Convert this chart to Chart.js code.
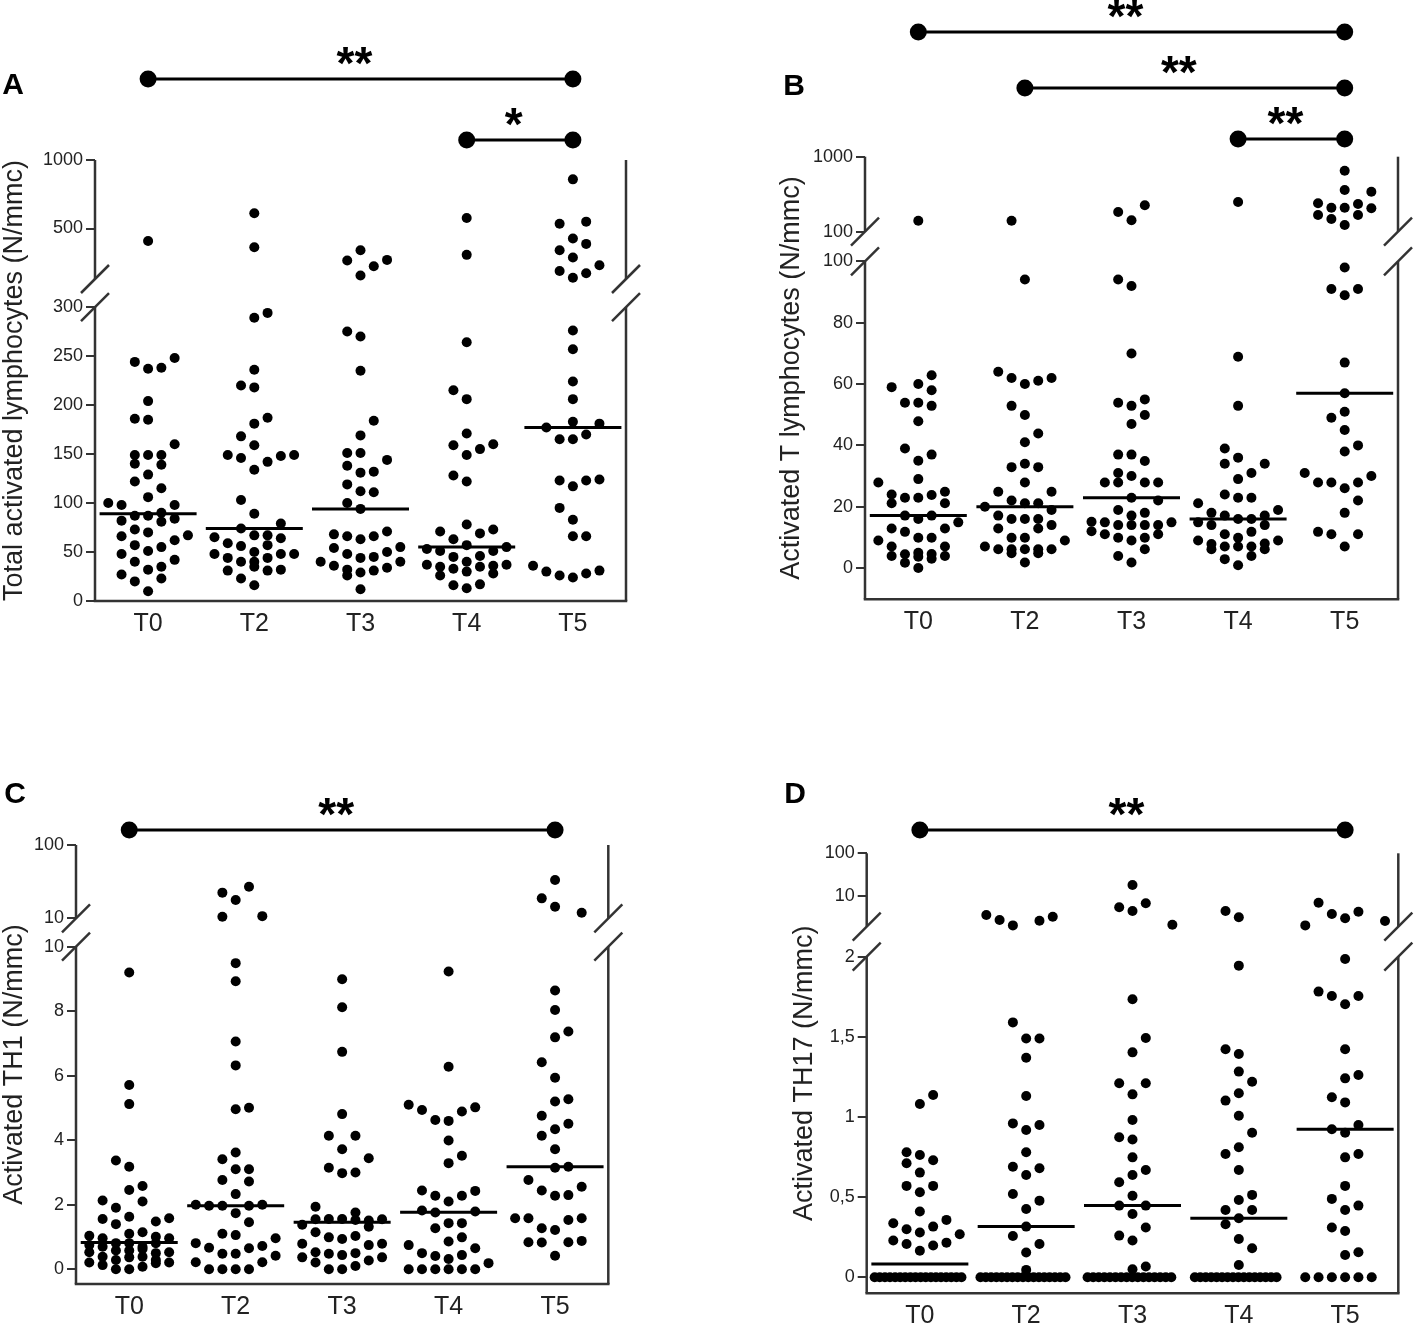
<!DOCTYPE html>
<html><head><meta charset="utf-8">
<script src="https://cdn.jsdelivr.net/npm/chart.js@4.4.1/dist/chart.umd.min.js"></script>
<style>
html,body{margin:0;padding:0;background:#fff;}
#wrap{position:relative;width:1415px;height:1325px;overflow:hidden;}
.panel{position:absolute;}
</style></head><body>
<div id="wrap">
<div class="panel" style="left:0;top:0;width:700px;height:660px"><canvas id="cA"></canvas></div>
<div class="panel" style="left:700px;top:0;width:715px;height:660px"><canvas id="cB"></canvas></div>
<div class="panel" style="left:0;top:660px;width:700px;height:665px"><canvas id="cC"></canvas></div>
<div class="panel" style="left:700px;top:660px;width:715px;height:665px"><canvas id="cD"></canvas></div>
</div>
<script>
// ---------- shared ----------
const categories = ['T0','T2','T3','T4','T5'];
// each point: [column offset within the swarm, value]

// ---------- Panel A: Total activated lymphocytes ----------
const A_T0 = [[0,441],[-1,244],[0,237],[1,238],[2,248],[0,204],[-1,186],[0,185],[2,160],[-1,149],[0,149],[1,149],[-1,140],[1,139],[0,129],[-1,122],[1,115],[0,106],[-3,100],[-2,98],[2,98],[-1,87],[0,87],[1,90],[-2,82],[1,81],[2,84],[-1,73],[0,70],[-2,66],[3,67],[2,62],[-1,57],[1,55],[0,51],[-2,48],[-1,40],[2,42],[1,35],[0,32],[-2,27],[1,23],[-1,20],[0,10]];
const A_T2 = [[0,584],[0,414],[0,289],[1,294],[0,236],[-1,220],[0,218],[1,187],[0,181],[-1,168],[0,159],[-2,149],[-1,146],[2,148],[3,149],[1,142],[0,134],[-1,103],[0,89],[2,79],[-1,74],[0,67],[1,67],[-3,65],[2,64],[-2,59],[-1,56],[1,57],[0,50],[-3,48],[2,48],[3,48],[-2,44],[-1,40],[0,40],[1,44],[-2,31],[0,35],[1,31],[2,32],[-1,23],[0,16]];
const A_T3 = [[0,401],[-1,362],[1,341],[2,364],[0,311],[-1,275],[0,270],[0,235],[1,184],[0,169],[-1,151],[0,151],[2,144],[-1,138],[0,131],[1,132],[-1,119],[0,112],[1,111],[-1,100],[0,94],[-2,68],[-1,66],[0,63],[1,66],[2,71],[-2,54],[-1,48],[0,44],[1,45],[2,50],[3,55],[-3,40],[-2,36],[-1,32],[0,29],[1,31],[2,34],[3,40],[-1,26],[0,12]];
const A_T4 = [[0,556],[0,383],[0,264],[-1,215],[0,206],[0,171],[-1,159],[1,155],[2,160],[0,149],[-1,128],[0,122],[0,78],[-2,71],[1,69],[2,73],[-1,63],[-3,53],[-2,51],[0,57],[2,51],[3,55],[-1,45],[1,46],[-3,37],[-2,35],[-1,33],[0,40],[1,35],[2,36],[3,37],[-2,26],[0,30],[2,28],[-1,16],[0,13],[1,17]];
const A_T5 = [[0,822],[-1,525],[1,536],[0,452],[1,428],[-1,401],[0,373],[2,345],[-1,325],[0,304],[1,318],[0,276],[0,257],[0,224],[0,206],[0,183],[-2,177],[2,181],[-1,165],[0,165],[1,170],[-1,123],[0,117],[1,123],[2,124],[-1,95],[0,83],[0,66],[1,66],[-3,36],[-2,30],[-1,26],[0,24],[1,28],[2,31]];
const A_medians = [89, 74, 94, 55, 177];
const A_lowTicks = [0, 50, 100, 150, 200, 250, 300];
const A_highTicks = [500, 1000];

// ---------- Panel B: Activated T lymphocytes ----------
const B_T0 = [[0,140],[1,62.9],[-2,59],[0,60],[1,58],[-1,53.9],[0,53.9],[1,52.9],[0,47.9],[-1,39],[1,37],[0,35],[0,29],[-3,27.9],[-2,24],[-1,22.9],[0,22.9],[1,23.8],[2,24.9],[-2,21.1],[2,21.1],[-1,17.1],[0,16],[1,17.1],[3,14.9],[-2,12.9],[-1,11.8],[2,12.9],[-3,9],[0,9.9],[1,9.9],[-2,7],[2,7],[-2,3.9],[-1,4.5],[-1,1.7],[0,5],[0,3.7],[1,4.6],[1,3],[2,3.9],[0,0]];
const B_T2 = [[-1,140],[0,94.1],[-2,64],[-1,62],[0,60],[1,61.1],[2,62],[-1,52.9],[0,49.9],[1,43.9],[0,41],[-1,32.9],[0,34],[1,32.9],[0,27.9],[-2,24.9],[2,24.9],[-1,22],[0,21.1],[1,21.1],[-3,20],[2,18.9],[-2,17.1],[-1,16],[0,16],[1,16],[2,14],[-2,12.9],[1,12.9],[-1,9.9],[0,9.9],[3,9],[-3,7],[-2,6.1],[-1,6.1],[-1,4.8],[0,6.1],[1,6.1],[1,4.8],[2,6.1],[0,1.8]];
const B_T3 = [[1,225],[-1,183],[0,142],[-1,94.1],[0,92],[0,70],[-1,53.9],[0,52.9],[1,55],[1,49.9],[0,47],[-1,37],[0,37],[1,34.9],[-1,31],[0,30],[-2,27.9],[-1,27.9],[1,27.9],[2,27.9],[0,22.9],[2,22],[-1,18.9],[0,17.1],[1,18],[-3,15.1],[-2,14.9],[-1,14],[0,14],[1,14],[2,14],[3,14.9],[-3,12],[-2,11],[-1,9.9],[0,9],[1,9.9],[2,11],[1,6.1],[-1,3.9],[0,1.8]];
const B_T4 = [[0,249],[0,68.9],[0,52.9],[-1,39],[0,36],[-1,34],[2,34],[1,31],[0,29],[-1,24],[0,22.9],[1,22.9],[-3,21.1],[-2,18],[3,18.9],[-1,17.1],[2,17.1],[0,16],[1,16],[-3,14.9],[-2,14],[2,14],[1,11.8],[-1,11],[0,9.9],[-3,9],[3,9],[-2,7.8],[-2,6.1],[-1,7],[0,7],[1,7],[2,8],[2,6.1],[-1,2.9],[1,3.9],[0,0.9]];
const B_T5 = [[0,651],[0,360],[2,341],[-2,239],[-1,209],[0,209],[1,234],[2,205],[-2,167],[-1,148],[1,167],[0,123],[0,98],[-1,91],[0,89],[1,91],[0,67],[0,57],[0,51],[-1,49],[0,45],[0,38],[1,40],[-3,31],[2,30],[-2,27.9],[-1,27.9],[0,26],[1,27.9],[1,22],[0,18],[-2,11.8],[-1,11],[1,11],[0,7]];
const B_medians = [17.1, 20, 22.9, 16, 57];
const B_lowTicks = [0, 20, 40, 60, 80, 100];
const B_highTicks = [100, 1000];

// ---------- Panel C: Activated TH1 ----------
const C_T0 = [[0,9.2],[0,5.71],[0,5.12],[-1,3.37],[0,3.18],[0,2.46],[1,2.58],[-2,2.13],[-1,1.91],[1,2.10],[0,1.63],[-2,1.56],[-1,1.40],[2,1.48],[3,1.58],[-3,1.04],[-2,0.96],[0,1.10],[1,1.15],[2,1.01],[3,0.96],[-3,0.75],[-2,0.70],[-1,0.81],[0,0.81],[1,0.70],[2,0.81],[-3,0.53],[-1,0.58],[0,0.58],[1,0.63],[2,0.50],[3,0.53],[-2,0.39],[-1,0.29],[0,0.37],[1,0.39],[2,0.29],[-3,0.21],[-2,0.13],[-1,0],[0,0],[1,0.08],[2,0.19],[3,0.21]];
const C_T2 = [[-1,22.4],[0,17.8],[1,27],[-1,10.5],[2,10.7],[0,9.49],[0,8.93],[0,7.06],[0,6.32],[0,4.96],[1,5.01],[0,3.62],[-1,3.41],[0,3.10],[1,3.10],[-1,2.77],[1,2.72],[0,2.33],[-3,2.0],[-2,1.97],[-1,1.97],[1,1.97],[2,2.0],[0,1.74],[1,1.46],[-1,1.10],[0,1.06],[3,0.96],[-3,0.81],[-2,0.67],[1,0.65],[2,0.72],[-1,0.48],[0,0.48],[3,0.42],[-3,0.22],[2,0.22],[-2,0],[-1,0],[0,0],[1,0]];
const C_T3 = [[0,8.99],[0,8.12],[0,6.74],[0,4.81],[-1,4.14],[1,4.14],[0,3.72],[2,3.44],[-1,3.15],[0,2.98],[1,3.0],[-2,1.94],[1,1.76],[-3,1.38],[-2,1.55],[-1,1.56],[0,1.56],[1,1.53],[2,1.51],[3,1.55],[2,1.32],[-2,1.15],[-1,0.99],[0,0.94],[1,1.03],[-3,0.79],[2,0.75],[3,0.79],[-2,0.53],[-1,0.48],[0,0.44],[1,0.50],[-3,0.37],[2,0.27],[3,0.37],[-2,0.21],[-1,0],[0,0],[1,0.10]];
const C_T4 = [[0,9.23],[0,6.28],[-3,5.10],[-2,4.94],[-1,4.63],[0,4.60],[1,4.89],[2,5.02],[0,3.99],[1,3.52],[0,3.29],[-2,2.44],[-1,2.28],[0,2.10],[1,2.28],[2,2.43],[-2,1.82],[-1,1.76],[2,1.79],[-1,1.27],[0,1.43],[1,1.43],[0,0.86],[1,0.99],[-3,0.75],[2,0.65],[-2,0.50],[-1,0.41],[0,0.32],[1,0.44],[3,0.19],[-3,0],[-2,0],[-1,0],[0,0],[1,0],[2,0]];
const C_T5 = [[0,33.3],[-1,18.7],[0,14.4],[2,11.9],[0,8.64],[0,8.04],[0,7.19],[1,7.37],[-1,6.42],[0,5.94],[0,5.20],[1,5.27],[-1,4.76],[0,4.34],[1,4.51],[-1,4.14],[0,3.72],[0,3.15],[1,3.18],[-2,2.77],[-1,2.44],[0,2.28],[1,2.30],[2,2.56],[-3,1.58],[-2,1.58],[1,1.53],[2,1.58],[-1,1.27],[0,1.22],[-2,0.84],[-1,0.83],[1,0.84],[2,0.88],[0,0.42]];
const C_medians = [0.83, 1.97, 1.46, 1.77, 3.18];
const C_lowTicks = [0, 2, 4, 6, 8, 10];
const C_highTicks = [10, 100];

// ---------- Panel D: Activated TH17 ----------
const D_T0 = [[0,1.081],[1,1.137],[-1,0.78],[0,0.763],[-1,0.711],[1,0.73],[0,0.653],[-1,0.57],[1,0.57],[0,0.53],[0,0.41],[-2,0.337],[2,0.358],[-1,0.30],[1,0.316],[0,0.279],[3,0.268],[-2,0.229],[-1,0.208],[1,0.198],[2,0.216],[0,0.166],
  [-3.4,0],[-3.02,0],[-2.63,0],[-2.25,0],[-1.86,0],[-1.48,0],[-1.1,0],[-0.71,0],[-0.33,0],[0.06,0],[0.44,0],[0.83,0],[1.21,0],[1.59,0],[1.98,0],[2.36,0],[2.75,0],[3.13,0]];
const D_T2 = [[-3,3.59],[-2,2.74],[-1,2.05],[1,2.64],[2,3.27],[-1,1.59],[0,1.49],[1,1.49],[0,1.37],[0,1.131],[-1,0.96],[1,0.95],[0,0.919],[0,0.78],[-1,0.69],[1,0.68],[0,0.638],[-1,0.52],[1,0.478],[0,0.426],[0,0.316],[-1,0.258],[1,0.208],[0,0.154],[0,0.046],
  [-3.44,0],[-3.04,0],[-2.64,0],[-2.24,0],[-1.84,0],[-1.44,0],[-1.04,0],[-0.64,0],[-0.24,0],[0.16,0],[0.56,0],[0.96,0],[1.36,0],[1.76,0],[2.16,0],[2.56,0],[2.96,0]];
const D_T3 = [[0,18.1],[-1,5.43],[0,4.46],[1,6.75],[3,2.13],[0,1.734],[1,1.493],[0,1.403],[-1,1.21],[1,1.21],[0,1.141],[0,0.981],[-1,0.873],[0,0.859],[0,0.748],[1,0.669],[0,0.638],[-1,0.593],[0,0.509],[-1,0.447],[1,0.447],[0,0.395],[1,0.31],[-1,0.26],[0,0.229],[0,0.05],[1,0.067],
  [-3.38,0],[-2.96,0],[-2.54,0],[-2.12,0],[-1.7,0],[-1.28,0],[-0.86,0],[-0.44,0],[-0.02,0],[0.4,0],[0.82,0],[1.24,0],[1.66,0],[2.08,0],[2.5,0],[2.92,0]];
const D_T4 = [[-1,4.46],[0,3.17],[0,1.944],[-1,1.422],[0,1.393],[0,1.283],[1,1.22],[0,1.148],[-1,1.102],[0,1.008],[1,0.902],[0,0.811],[-1,0.769],[0,0.669],[1,0.514],[0,0.482],[-1,0.42],[1,0.42],[0,0.368],[-1,0.331],[0,0.239],[1,0.181],[0,0.077],
  [-3.31,0],[-2.9,0],[-2.49,0],[-2.08,0],[-1.67,0],[-1.26,0],[-0.85,0],[-0.44,0],[-0.03,0],[0.38,0],[0.79,0],[1.2,0],[1.61,0],[2.02,0],[2.43,0],[2.84,0]];
const D_T5 = [[-2,6.97],[-1,3.79],[0,3.0],[1,4.29],[-3,2.05],[3,2.6],[0,1.985],[-2,1.782],[-1,1.755],[0,1.703],[1,1.755],[0,1.422],[0,1.241],[1,1.262],[-1,1.123],[0,1.091],[-1,0.923],[0,0.902],[1,0.95],[0,0.748],[1,0.769],[0,0.57],[-1,0.489],[0,0.42],[1,0.447],[-1,0.31],[0,0.289],[0,0.139],[1,0.156],
  [-3,0],[-2,0],[-1,0],[0,0],[1,0],[2,0]];
const D_medians = [0.083, 0.316, 0.447, 0.368, 0.923];
const D_lowTicks = [0, 0.5, 1, 1.5, 2];
const D_lowLabels = ['0', '0,5', '1', '1,5', '2'];
const D_highTicks = [10, 100];

// ---------- drawing ----------
const FONT = '"Liberation Sans", Arial, Helvetica, sans-serif';
Chart.defaults.font.family = FONT;
const COL_STEP = 0.125;

const panelDeco = {
  id: 'panelDeco',
  afterDraw(chart, args, o) {
    const {ctx, chartArea: ca, scales} = chart;
    const x = scales.x, yL = scales.yL, yU = scales.yU;
    ctx.save();
    const seg = (x1, y1, x2, y2) => { ctx.beginPath(); ctx.moveTo(x1, y1); ctx.lineTo(x2, y2); ctx.stroke(); };
    ctx.strokeStyle = '#333'; ctx.lineWidth = 2.5; ctx.lineCap = 'butt';
    const top = yU.top, bU = yU.bottom, bL = yL.getPixelForValue(o.lowTop), bot = ca.bottom;
    [ca.left, ca.right].forEach(ax => {
      seg(ax, top, ax, bU); seg(ax, bL, ax, bot);
      seg(ax - 14, bU + 14, ax + 14, bU - 14);
      seg(ax - 14, bL + 14, ax + 14, bL - 14);
    });
    seg(ca.left - 1.25, bot, ca.right + 1.25, bot);
    // axis title
    ctx.fillStyle = '#222';
    ctx.font = '27px ' + FONT;
    ctx.save();
    ctx.translate(o.titleX, (top + bot) / 2);
    ctx.rotate(-Math.PI / 2);
    ctx.textAlign = 'center'; ctx.textBaseline = 'middle';
    ctx.fillText(o.title, 0, 0);
    ctx.restore();
    // panel letter
    ctx.fillStyle = '#000';
    ctx.font = 'bold 30px ' + FONT;
    ctx.textAlign = 'center'; ctx.textBaseline = 'middle';
    ctx.fillText(o.letter, o.letterX, o.letterY);
    // significance brackets
    o.brackets.forEach(b => {
      const x1 = x.getPixelForValue(b.from), x2 = x.getPixelForValue(b.to);
      ctx.strokeStyle = '#000'; ctx.lineWidth = 3;
      seg(x1, b.y, x2, b.y);
      ctx.fillStyle = '#000';
      [x1, x2].forEach(px => { ctx.beginPath(); ctx.arc(px, b.y, 8.5, 0, Math.PI * 2); ctx.fill(); });
      ctx.font = 'bold 46px ' + FONT;
      ctx.textAlign = 'center'; ctx.textBaseline = 'alphabetic';
      const m = ctx.measureText(b.label);
      const cy = b.y - 23;
      const base = cy + (m.actualBoundingBoxAscent - m.actualBoundingBoxDescent) / 2;
      ctx.fillText(b.label, (x1 + x2) / 2 - 6, base);
    });
    ctx.restore();
  }
};
Chart.register(panelDeco);

function makePanel(id, cfg) {
  const low = [], high = [];
  cfg.cats.forEach((pts, i) => pts.forEach(([k, v]) => {
    (v > cfg.lowTop ? high : low).push({x: i + k * COL_STEP, y: v});
  }));
  const med = cfg.medians.map((m, i) => ({x: i, y: m}));
  const tickFont = {size: 18};
  const yGrid = {display: true, drawOnChartArea: false, drawTicks: true, tickLength: 9, color: '#333', lineWidth: 2};
  new Chart(document.getElementById(id), {
    type: 'scatter',
    data: {
      datasets: [
        {data: med, yAxisID: 'yL', pointStyle: 'line', pointRadius: 48.5, borderWidth: 3, borderColor: '#000', backgroundColor: '#000', clip: false},
        {data: low, yAxisID: 'yL', pointRadius: 5, borderWidth: 0, backgroundColor: '#000', clip: false},
        {data: high, yAxisID: 'yU', pointRadius: 5, borderWidth: 0, backgroundColor: '#000', clip: false}
      ]
    },
    options: {
      responsive: true, maintainAspectRatio: false, animation: false, events: [],
      layout: {padding: cfg.padding, autoPadding: false},
      plugins: {
        legend: {display: false}, tooltip: {enabled: false},
        panelDeco: {lowTop: cfg.lowTop, title: cfg.title, titleX: cfg.titleX, letter: cfg.letter,
          letterX: cfg.letterX, letterY: cfg.letterY, brackets: cfg.brackets}
      },
      scales: {
        x: {
          type: 'linear', min: -0.5, max: 4.5,
          afterBuildTicks: s => { s.ticks = categories.map((c, i) => ({value: i})); },
          afterFit: s => { s.height = cfg.xHeight; s.paddingLeft = 0; s.paddingRight = 0; },
          ticks: {callback: v => categories[Math.round(v)], font: {size: 25}, color: '#222', padding: cfg.xPad, autoSkip: false, maxRotation: 0},
          grid: {display: false, drawTicks: false}, border: {display: false}
        },
        yL: {
          type: 'linear', position: 'left', stack: 'y', stackWeight: cfg.weights[1], weight: 0,
          min: cfg.lowMin, max: cfg.lowMax,
          afterBuildTicks: s => { s.ticks = cfg.lowTicks.map(v => ({value: v})); },
          afterFit: s => { s.width = cfg.yWidth; },
          ticks: {callback: (v, i) => cfg.lowLabels[i], font: tickFont, color: '#222', padding: 3},
          grid: yGrid, border: {display: false}
        },
        yU: {
          type: 'logarithmic', position: 'left', stack: 'y', stackWeight: cfg.weights[0], weight: 1,
          min: cfg.highMin, max: cfg.highMax,
          afterBuildTicks: s => { s.ticks = cfg.highTicks.map(v => ({value: v})); },
          afterFit: s => { s.width = cfg.yWidth; },
          ticks: {callback: (v, i) => String(cfg.highTicks[i]), font: tickFont, color: '#222', padding: 3},
          grid: yGrid, border: {display: false}
        }
      }
    }
  });
}

makePanel('cA', {
  cats: [A_T0, A_T2, A_T3, A_T4, A_T5], medians: A_medians, lowTop: 300,
  lowMin: 0, lowMax: 328.6, lowTicks: A_lowTicks, lowLabels: A_lowTicks.map(String),
  highMin: 300, highMax: 1000, highTicks: A_highTicks, weights: [119, 322],
  padding: {left: 0, top: 160, right: 74, bottom: 19}, yWidth: 95, xHeight: 40, xPad: 8,
  title: 'Total activated lymphocytes (N/mmc)', titleX: 15, letter: 'A', letterX: 13, letterY: 86,
  brackets: [{from: 0, to: 4, y: 79, label: '**'}, {from: 3, to: 4, y: 140, label: '*'}]
});
makePanel('cB', {
  cats: [B_T0, B_T2, B_T3, B_T4, B_T5], medians: B_medians, lowTop: 100,
  lowMin: -10.2, lowMax: 109.7, lowTicks: B_lowTicks, lowLabels: B_lowTicks.map(String),
  highMin: 100, highMax: 1000, highTicks: B_highTicks, weights: [75, 367.6],
  padding: {left: 0, top: 156.7, right: 17, bottom: 20.7}, yWidth: 165, xHeight: 40, xPad: 8,
  title: 'Activated T lymphocytes (N/mmc)', titleX: 92, letter: 'B', letterX: 94, letterY: 87,
  brackets: [{from: 0, to: 4, y: 32, label: '**'}, {from: 1, to: 4, y: 88, label: '**'}, {from: 3, to: 4, y: 139, label: '**'}]
});
makePanel('cC', {
  cats: [C_T0, C_T2, C_T3, C_T4, C_T5], medians: C_medians, lowTop: 10,
  lowMin: -0.456, lowMax: 10.88, lowTicks: C_lowTicks, lowLabels: C_lowTicks.map(String),
  highMin: 10, highMax: 100, highTicks: C_highTicks, weights: [73.3, 365.7],
  padding: {left: 0, top: 185, right: 91.7, bottom: 1}, yWidth: 76, xHeight: 40, xPad: 8,
  title: 'Activated TH1 (N/mmc)', titleX: 15, letter: 'C', letterX: 15, letterY: 135,
  brackets: [{from: 0, to: 4, y: 170, label: '**'}]
});
makePanel('cD', {
  cats: [D_T0, D_T2, D_T3, D_T4, D_T5], medians: D_medians, lowTop: 2,
  lowMin: -0.1, lowMax: 2.187, lowTicks: D_lowTicks, lowLabels: D_lowLabels,
  highMin: 1.91, highMax: 100, highTicks: D_highTicks, weights: [73.4, 366.6],
  padding: {left: 0, top: 193.3, right: 16.7, bottom: 0}, yWidth: 166.7, xHeight: 31.7, xPad: 8,
  title: 'Activated TH17 (N/mmc)', titleX: 105, letter: 'D', letterX: 95, letterY: 135,
  brackets: [{from: 0, to: 4, y: 170, label: '**'}]
});
</script>
</body></html>
